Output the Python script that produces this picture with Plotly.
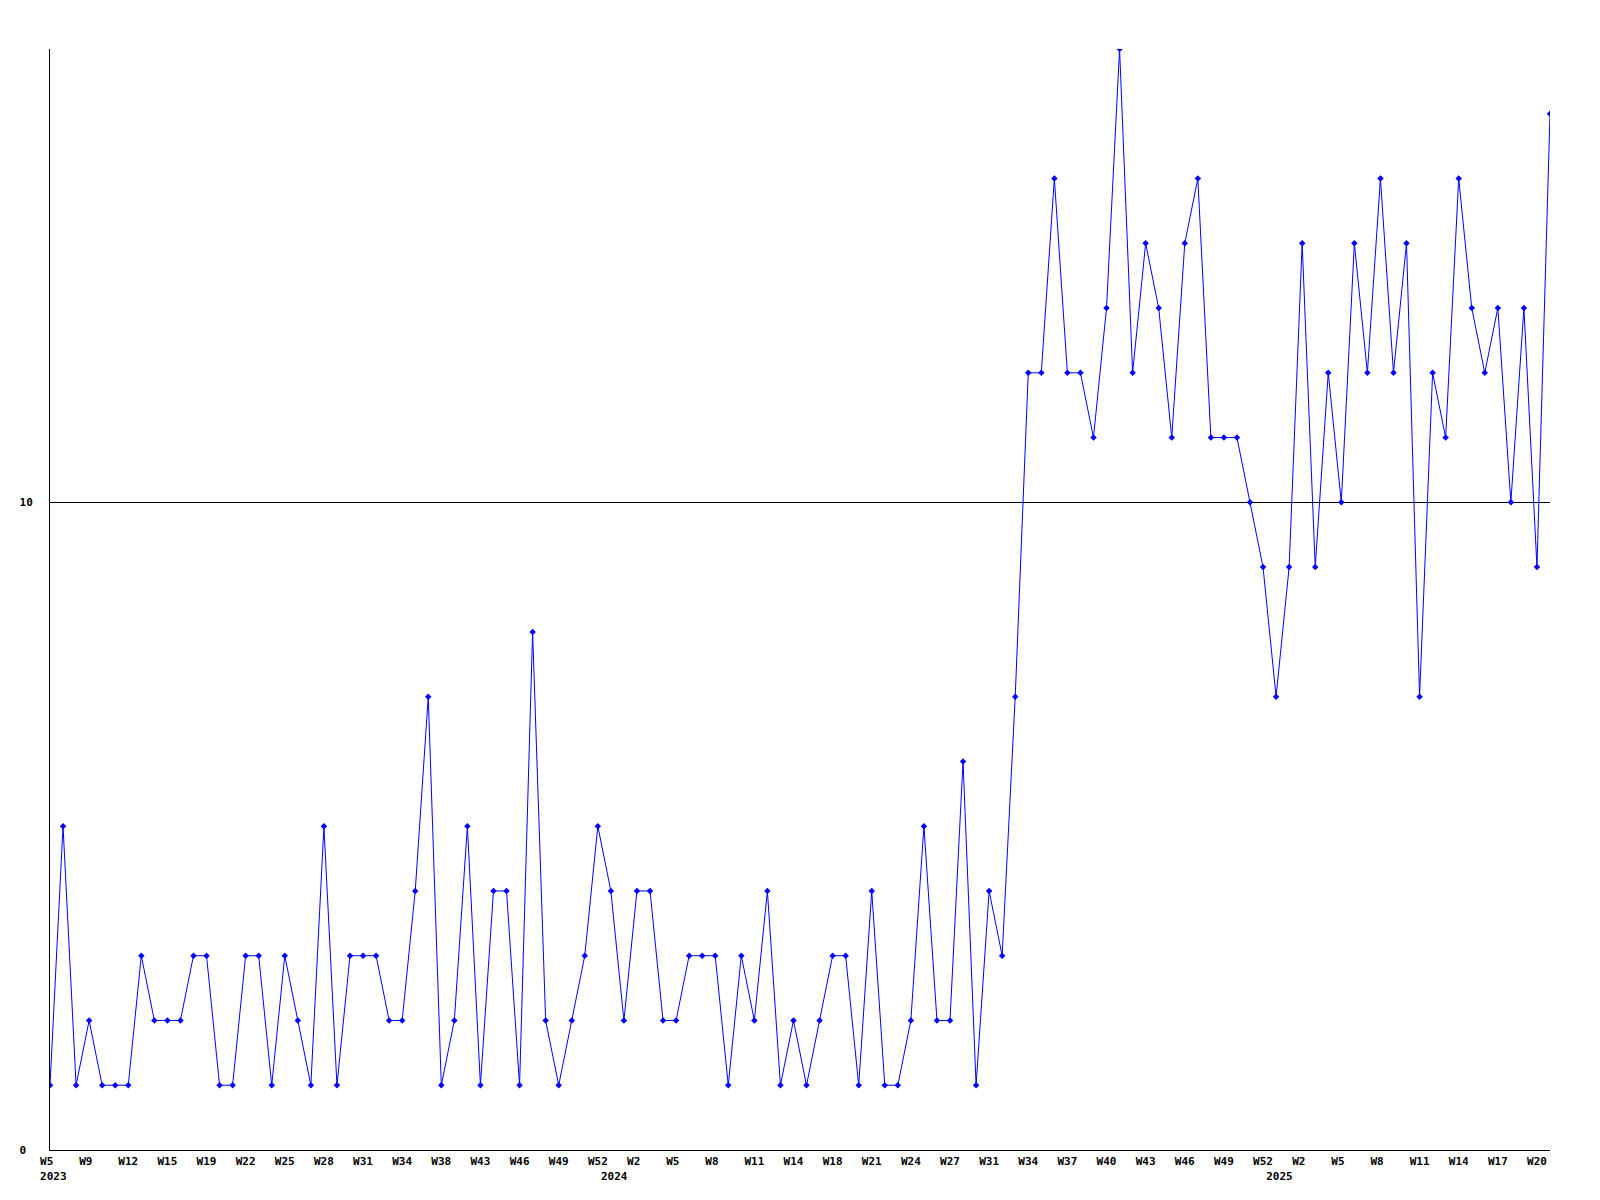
import plotly.graph_objects as go

# Weekly values, one per plotted week (116 points)
values = [
    1, 5, 1, 2, 1, 1, 1, 3, 2, 2, 2, 3, 3, 1, 1, 3, 3, 1, 3, 2,
    1, 5, 1, 3, 3, 3, 2, 2, 4, 7, 1, 2, 5, 1, 4, 4, 1, 8, 2, 1,
    2, 3, 5, 4, 2, 4, 4, 2, 2, 3, 3, 3, 1, 3, 2, 4, 1, 2, 1, 2,
    3, 3, 1, 4, 1, 1, 2, 5, 2, 2, 6, 1, 4, 3, 7, 12, 12, 15, 12, 12,
    11, 13, 17, 12, 14, 13, 11, 14, 15, 11, 11, 11, 10, 9, 7, 9, 14, 9, 12, 10,
    14, 12, 15, 12, 14, 7, 12, 11, 15, 13, 12, 13, 10, 13, 9, 16,
]

# Week labels shown every third point
week_labels = [
    "W5", "W9", "W12", "W15", "W19", "W22", "W25", "W28", "W31", "W34",
    "W38", "W43", "W46", "W49", "W52",
    "W2", "W5", "W8", "W11", "W14", "W18", "W21", "W24", "W27", "W31",
    "W34", "W37", "W40", "W43", "W46", "W49", "W52",
    "W2", "W5", "W8", "W11", "W14", "W17", "W20",
]
tick_step = 3

# Year labels at the first point of each year
year_labels = ["2023", "2024", "2025"]
year_points = [0, 43, 94]

y_ticks = [0, 10]

NB = "\u00a0"

x = list(range(len(values)))
tickvals = [i * tick_step for i in range(len(week_labels))]
# pad to 3 characters so the centred labels sit left-aligned like the reference
ticktext = [w + NB * (3 - len(w)) for w in week_labels]
yeartext = [NB + y for y in year_labels]
ytext = [str(v) + NB * (2 - len(str(v))) for v in y_ticks]

fig = go.Figure()
fig.add_trace(go.Scatter(
    x=x, y=values, mode="lines+markers",
    line=dict(color="#0000FF", width=1),
    marker=dict(symbol="diamond", size=5, color="#0000FF"),
    hoverinfo="skip",
))
# invisible helper trace so the year axis is drawn
fig.add_trace(go.Scatter(
    x=[year_points[0]], y=[values[0]], xaxis="x2", mode="none",
    hoverinfo="skip", showlegend=False,
))

tfont = dict(family="DejaVu Sans Mono", size=11, color="black", weight="bold")
xrange = [0, len(values) - 1]

fig.update_layout(
    width=1600, height=1200,
    margin=dict(l=50, r=50, t=49, b=50, pad=0),
    paper_bgcolor="white", plot_bgcolor="white",
    showlegend=False,
    xaxis=dict(
        range=xrange,
        tickmode="array", tickvals=tickvals, ticktext=ticktext,
        showgrid=False, zeroline=False,
        showline=True, linecolor="black", linewidth=1,
        ticks="", tickfont=tfont, tickangle=0, ticklabelstandoff=1,
    ),
    xaxis2=dict(
        range=xrange, overlaying="x", side="bottom", anchor="y",
        tickmode="array", tickvals=year_points, ticktext=yeartext,
        showgrid=False, zeroline=False, showline=False,
        ticks="", tickfont=tfont, tickangle=0, ticklabelstandoff=18,
    ),
    yaxis=dict(
        range=[0, 17],
        tickmode="array", tickvals=y_ticks, ticktext=ytext,
        showgrid=True, gridcolor="black", gridwidth=1,
        zeroline=False,
        showline=True, linecolor="black", linewidth=1,
        ticks="", tickfont=tfont, ticklabelstandoff=14,
    ),
)

fig.write_html(
    "out.html",
    config={"displayModeBar": False},
    post_script="document.body.style.margin='0px';",
)
